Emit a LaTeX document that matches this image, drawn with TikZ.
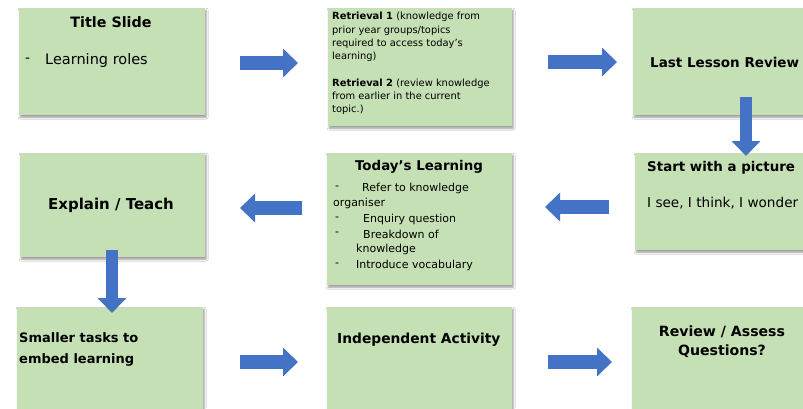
\documentclass[tikz,border=0pt]{standalone}
\usepackage{fontspec}
\setmainfont{DejaVu Sans}
\usetikzlibrary{arrows.meta,shadows.blur}
\definecolor{boxgreen}{HTML}{C5E0B4}
\definecolor{arrowblue}{HTML}{4472C4}
\tikzset{
  box/.style={draw=none, fill=boxgreen, anchor=north west, inner sep=0pt,
    blur shadow={shadow xshift=1pt, shadow yshift=-2pt, shadow blur radius=2pt, shadow opacity=40}},
  blockarrow/.style={line width=14pt, draw=arrowblue, -{Triangle[width=28pt,length=15pt]}},
  hd/.style={font=\fontsize{14}{16}\selectfont\bfseries, inner sep=0pt, text=black},
  tx/.style={font=\fontsize{14}{16}\selectfont, inner sep=0pt, text=black},
  sm/.style={font=\fontsize{9.9}{13.3}\selectfont, inner sep=0pt, text=black, align=left},
  li/.style={font=\fontsize{11}{13}\selectfont, inner sep=0pt, text=black, anchor=west},
}
\begin{document}
\begin{tikzpicture}[x=1pt,y=1pt]
\useasboundingbox (0,0) rectangle (803,-408);
\fill[white] (0,0) rectangle (803,-408);
\clip (0,0) rectangle (803,-408);
% boxes
\node[box, minimum width=186pt, minimum height=107pt] (b1) at (19,-8) {};
\node[box, minimum width=184pt, minimum height=118pt] (b2) at (328,-8) {};
\node[box, minimum width=185pt, minimum height=107pt] (b3) at (633,-8) {};
\node[box, minimum width=185pt, minimum height=104pt] (b4) at (20,-153) {};
\node[box, minimum width=185pt, minimum height=132pt] (b5) at (327,-153) {};
\node[box, minimum width=185pt, minimum height=97pt] (b6) at (635,-153) {};
\node[box, minimum width=186pt, minimum height=113pt] (b7) at (17,-307) {};
\node[box, minimum width=185pt, minimum height=113pt] (b8) at (327,-307) {};
\node[box, minimum width=185pt, minimum height=113pt] (b9) at (632,-307) {};
% texts
\node[hd, font=\fontsize{14.3}{16}\selectfont\bfseries] (t1) at (111,-22) {Title Slide};
\node[tx, anchor=west] (t1d) at (25,-60) {-};
\node[tx, anchor=west, font=\fontsize{14.5}{16}\selectfont] (t1a) at (45,-60) {Learning roles};
\node[sm, anchor=north west] (t2) at (332,-12) {\textbf{Retrieval 1} (knowledge from\\prior year groups/topics\\required to access today's\\learning)\\[13.3pt]\textbf{Retrieval 2} (review knowledge\\from earlier in the current\\topic.)};
\node[hd, anchor=west, font=\fontsize{13.5}{16}\selectfont\bfseries] (t3) at (650,-62) {Last Lesson Review};
\node[hd, font=\fontsize{15}{16}\selectfont\bfseries] (t4) at (111,-205) {Explain / Teach};
\node[hd, font=\fontsize{13.4}{15}\selectfont\bfseries] (t5h) at (419,-167) {Today's Learning};
\node[li] (t5a) at (335,-188) {-};
\node[li] (t5b) at (362,-188) {Refer to knowledge};
\node[li] (t5c) at (333,-203) {organiser};
\node[li] (t5d) at (335,-219) {-};
\node[li] (t5e) at (363,-219) {Enquiry question};
\node[li] (t5f) at (335,-234) {-};
\node[li] (t5g) at (363,-234) {Breakdown of};
\node[li] (t5h2) at (356,-249) {knowledge};
\node[li] (t5i) at (335,-265) {-};
\node[li] (t5j) at (356,-265) {Introduce vocabulary};
\node[hd, anchor=west, font=\fontsize{13.4}{16}\selectfont\bfseries] (t6) at (647,-168) {Start with a picture};
\node[tx, anchor=west, font=\fontsize{13.6}{16}\selectfont] (t6a) at (647,-203) {I see, I think, I wonder};
\node[hd, anchor=north west, align=left, font=\fontsize{13}{21}\selectfont\bfseries] (t7) at (19,-332) {Smaller tasks to\\embed learning};
\node[hd, anchor=west, font=\fontsize{13.8}{16}\selectfont\bfseries] (t8) at (337,-340) {Independent Activity};
\node[hd, align=center, font=\fontsize{14.1}{19}\selectfont\bfseries] (t9) at (722,-342) {Review / Assess\\Questions?};
% arrow end points
\coordinate (a1s) at (240,-63); \coordinate (a1e) at (298,-63);
\coordinate (a2s) at (548,-62); \coordinate (a2e) at (617,-62);
\coordinate (a3s) at (746,-97); \coordinate (a3e) at (746,-156);
\coordinate (a4s) at (609,-207); \coordinate (a4e) at (545,-207);
\coordinate (a5s) at (302,-208); \coordinate (a5e) at (240,-208);
\coordinate (a6s) at (112,-250); \coordinate (a6e) at (112,-313);
\coordinate (a7s) at (240,-362); \coordinate (a7e) at (298,-362);
\coordinate (a8s) at (548,-362); \coordinate (a8e) at (612,-362);
\foreach \s/\e in {a1s/a1e,a2s/a2e,a4s/a4e,a5s/a5e,a7s/a7e,a8s/a8e}
  \draw[blockarrow] (\s) -- (\e);
\foreach \s/\e in {a3s/a3e,a6s/a6e}
  \draw[blockarrow, line width=12pt] (\s) -- (\e);
\end{tikzpicture}
\end{document}
